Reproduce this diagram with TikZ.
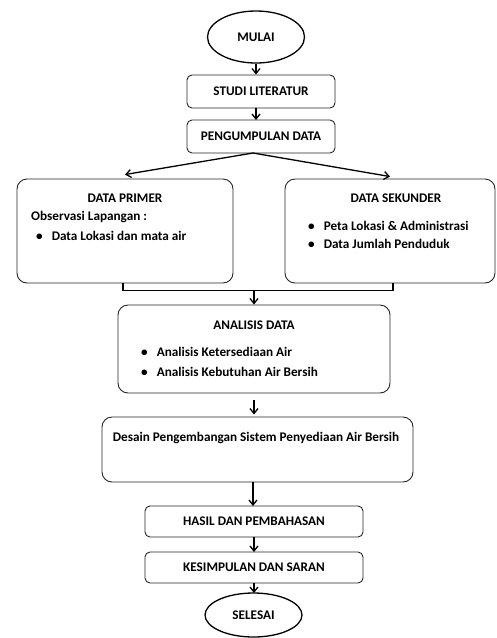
\documentclass[tikz,border=0pt]{standalone}
\usepackage{fontspec}
\setmainfont{Carlito}
\usetikzlibrary{positioning,shapes.geometric,arrows.meta}

\begin{document}
\begin{tikzpicture}[x=1pt,y=-1pt,
    font=\fontsize{13.2}{15}\selectfont\bfseries,
    box/.style={draw=black!85, line width=0.9pt, rounded corners=5pt, inner sep=0pt},
    bigbox/.style={box, rounded corners=10pt},
    terminal/.style={draw=black, ellipse, line width=1.3pt, inner sep=0pt},
    teks/.style={inner sep=0pt, anchor=west},
    judul/.style={inner sep=0pt},
    panah/.style={line width=1.3pt, -{Straight Barb[length=5pt,width=8pt]}}]
    \useasboundingbox (0,0) rectangle (496,638);

    % awal
    \node[terminal, minimum width=97, minimum height=52] (mulai) at (256,37) {MULAI};
    \node[box, minimum width=148, minimum height=33] (studi) at (261,91.5) {STUDI LITERATUR};
    \node[box, minimum width=148, minimum height=33] (kumpul) at (261,136.5) {PENGUMPULAN DATA};

    % data primer dan sekunder
    \node[bigbox, minimum width=216, minimum height=104] (primer) at (125,231) {};
    \node[bigbox, minimum width=210, minimum height=104] (sekunder) at (390,231) {};
    \node[judul] (primerjudul) at (125,198) {DATA PRIMER};
    \node[teks] (observasi) at (31,217) {Observasi Lapangan :};
    \node[teks] (primer1) at (36,236) {\textbullet\hspace{9pt}Data Lokasi dan mata air};
    \node[judul] (sekunderjudul) at (396,198) {DATA SEKUNDER};
    \node[teks] (sekunder1) at (308,226) {\textbullet\hspace{9pt}Peta Lokasi \& Administrasi};
    \node[teks] (sekunder2) at (308,244) {\textbullet\hspace{9pt}Data Jumlah Penduduk};

    % analisis
    \node[bigbox, minimum width=272, minimum height=88] (analisis) at (254,349) {};
    \node[judul] (analisisjudul) at (254,325) {ANALISIS DATA};
    \node[teks] (analisis1) at (141,352) {\textbullet\hspace{9pt}Analisis Ketersediaan Air};
    \node[teks] (analisis2) at (141,372) {\textbullet\hspace{9pt}Analisis Kebutuhan Air Bersih};

    % desain
    \node[bigbox, minimum width=311, minimum height=65] (desain) at (257.5,449.5) {};
    \node[judul] (desainjudul) at (256,438) {Desain Pengembangan Sistem Penyediaan Air Bersih};

    % akhir
    \node[box, minimum width=218, minimum height=31] (hasil) at (254,521.5) {HASIL DAN PEMBAHASAN};
    \node[box, minimum width=218, minimum height=31] (simpul) at (254,567.5) {KESIMPULAN DAN SARAN};
    \node[terminal, minimum width=97, minimum height=44] (selesai) at (253.5,615) {SELESAI};

    % panah
    \coordinate (cabang) at (253,153);
    \coordinate (gabung) at (254,290);
    \draw[panah] (mulai.south) -- (mulai.south |- studi.north);
    \draw[panah] (256,108) -- (256,120);
    \draw[panah] (cabang) -- ([yshift=4]primer.north);
    \draw[panah] (cabang) -- ([yshift=2]sekunder.north);
    \draw[line width=1.3pt] ([xshift=-2]primer.south) -- ++(0,7) -| ([xshift=3]sekunder.south);
    \draw[panah] (gabung) -- (gabung |- analisis.north);
    \draw[panah] ([yshift=-7]analisis.south) -- ([yshift=2]analisis.south |- desain.north);
    \draw[panah] (253,482) -- (253,506);
    \draw[panah] (254,537) -- (254,552);
    \draw[panah] (254,583) -- (254,593);
\end{tikzpicture}
\end{document}
